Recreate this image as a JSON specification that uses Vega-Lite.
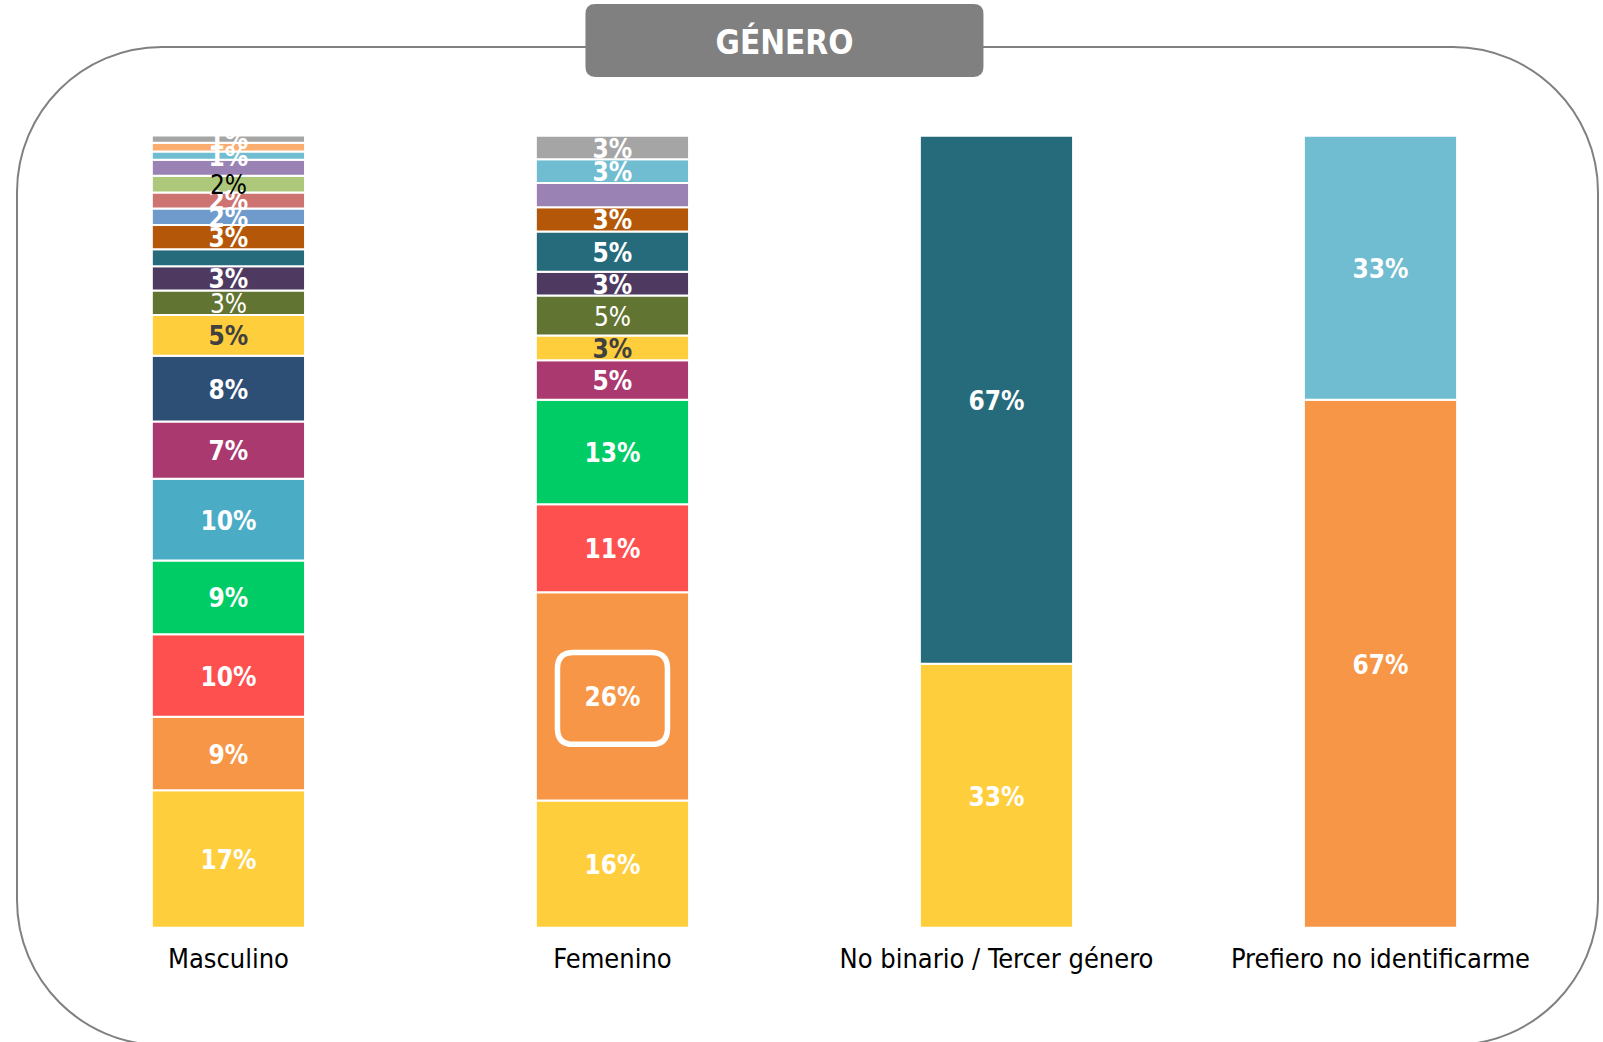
{
  "$schema": "https://vega.github.io/schema/vega-lite/v6.json",
  "usermeta": {"embedOptions": {"actions": false}},
  "autosize": {"type": "none"},
  "width": 1581,
  "height": 998,
  "padding": {"left": 17, "top": 47, "right": 5, "bottom": -3},
  "background": "white",
  "view": {"stroke": "#808080", "strokeWidth": 2, "cornerRadius": 145, "fill": null},
  "config": {"font": "DejaVu Sans Condensed"},
  "data": {
    "values": [
      {"g": "Masculino", "cat": "c01", "v": 17.34, "label": "17%"},
      {"g": "Masculino", "cat": "c02", "v": 9.29, "label": "9%"},
      {"g": "Masculino", "cat": "c03", "v": 10.42, "label": "10%"},
      {"g": "Masculino", "cat": "c04", "v": 9.30, "label": "9%"},
      {"g": "Masculino", "cat": "c05", "v": 10.34, "label": "10%"},
      {"g": "Masculino", "cat": "c06", "v": 7.23, "label": "7%"},
      {"g": "Masculino", "cat": "c07", "v": 8.29, "label": "8%"},
      {"g": "Masculino", "cat": "c08", "v": 5.15, "label": "5%"},
      {"g": "Masculino", "cat": "c09", "v": 3.08, "label": "3%"},
      {"g": "Masculino", "cat": "c10", "v": 3.09, "label": "3%"},
      {"g": "Masculino", "cat": "c11", "v": 2.13, "label": ""},
      {"g": "Masculino", "cat": "c12", "v": 3.06, "label": "3%"},
      {"g": "Masculino", "cat": "c13", "v": 2.09, "label": "2%"},
      {"g": "Masculino", "cat": "c14", "v": 2.03, "label": "2%"},
      {"g": "Masculino", "cat": "c15", "v": 2.10, "label": "2%"},
      {"g": "Masculino", "cat": "c16", "v": 2.03, "label": ""},
      {"g": "Masculino", "cat": "c17", "v": 1.04, "label": "1%"},
      {"g": "Masculino", "cat": "c18", "v": 1.09, "label": ""},
      {"g": "Masculino", "cat": "c19", "v": 0.91, "label": "1%"},
      {"g": "Femenino", "cat": "c01", "v": 16.06, "label": "16%"},
      {"g": "Femenino", "cat": "c02", "v": 26.30, "label": "26%"},
      {"g": "Femenino", "cat": "c03", "v": 11.10, "label": "11%"},
      {"g": "Femenino", "cat": "c04", "v": 13.19, "label": "13%"},
      {"g": "Femenino", "cat": "c06", "v": 5.01, "label": "5%"},
      {"g": "Femenino", "cat": "c08", "v": 3.10, "label": "3%"},
      {"g": "Femenino", "cat": "c09", "v": 5.06, "label": "5%"},
      {"g": "Femenino", "cat": "c10", "v": 3.01, "label": "3%"},
      {"g": "Femenino", "cat": "c11", "v": 5.09, "label": "5%"},
      {"g": "Femenino", "cat": "c12", "v": 3.04, "label": "3%"},
      {"g": "Femenino", "cat": "c16", "v": 3.06, "label": ""},
      {"g": "Femenino", "cat": "c17", "v": 3.01, "label": "3%"},
      {"g": "Femenino", "cat": "c19", "v": 2.95, "label": "3%"},
      {"g": "No binario / Tercer género", "cat": "c01", "v": 33.33, "label": "33%"},
      {"g": "No binario / Tercer género", "cat": "c11", "v": 66.67, "label": "67%"},
      {"g": "Prefiero no identificarme", "cat": "c02", "v": 66.67, "label": "67%"},
      {"g": "Prefiero no identificarme", "cat": "c17", "v": 33.33, "label": "33%"}
    ]
  },
  "encoding": {
    "x": {
      "field": "g",
      "type": "nominal",
      "sort": ["Masculino", "Femenino", "No binario / Tercer género", "Prefiero no identificarme"],
      "scale": {"paddingInner": 0.601, "paddingOuter": 0.359, "align": 0.489},
      "axis": null
    }
  },
  "layer": [
    {
      "mark": {"type": "bar", "stroke": "white", "strokeWidth": 2},
      "encoding": {
        "y": {"field": "v", "type": "quantitative", "stack": "zero", "scale": {"domain": [-14.81, 111.2], "nice": false, "zero": false}, "axis": null},
        "color": {
          "field": "cat",
          "type": "nominal",
          "scale": {
            "domain": ["c01","c02","c03","c04","c05","c06","c07","c08","c09","c10","c11","c12","c13","c14","c15","c16","c17","c18","c19"],
            "range": ["#FFCE3C","#F79646","#FF5050","#00CC66","#4BACC6","#A9396F","#2D4F76","#FFCE3C","#627431","#4E3A61","#266B7B","#B55708","#6F9ACC","#CD7371","#ADC87B","#9A82B5","#70BCD0","#FBAD70","#A5A5A5"]
          },
          "legend": null
        },
        "order": {"field": "cat", "sort": "ascending"}
      }
    },
    {
      "mark": {"type": "text", "fontSize": 26, "fontWeight": "bold", "color": "white", "baseline": "middle", "align": "center", "dy": 2},
      "encoding": {
        "y": {"field": "v", "type": "quantitative", "stack": "zero", "bandPosition": 0.5},
        "detail": {"field": "cat"},
        "order": {"field": "cat", "sort": "ascending"},
        "text": {"condition": {"test": "datum.cat != 'c08' && datum.cat != 'c09' && datum.cat != 'c15'", "field": "label", "type": "nominal"}, "value": ""}
      }
    },
    {
      "mark": {"type": "text", "fontSize": 26, "fontWeight": "bold", "color": "#404040", "baseline": "middle", "align": "center", "dy": 2},
      "encoding": {
        "y": {"field": "v", "type": "quantitative", "stack": "zero", "bandPosition": 0.5},
        "detail": {"field": "cat"},
        "order": {"field": "cat", "sort": "ascending"},
        "text": {"condition": {"test": "datum.cat == 'c08'", "field": "label", "type": "nominal"}, "value": ""}
      }
    },
    {
      "mark": {"type": "text", "fontSize": 26, "fontWeight": "normal", "color": "white", "baseline": "middle", "align": "center", "dy": 2},
      "encoding": {
        "y": {"field": "v", "type": "quantitative", "stack": "zero", "bandPosition": 0.5},
        "detail": {"field": "cat"},
        "order": {"field": "cat", "sort": "ascending"},
        "text": {"condition": {"test": "datum.cat == 'c09'", "field": "label", "type": "nominal"}, "value": ""}
      }
    },
    {
      "mark": {"type": "text", "fontSize": 26, "fontWeight": "normal", "color": "black", "baseline": "middle", "align": "center", "dy": 2},
      "encoding": {
        "y": {"field": "v", "type": "quantitative", "stack": "zero", "bandPosition": 0.5},
        "detail": {"field": "cat"},
        "order": {"field": "cat", "sort": "ascending"},
        "text": {"condition": {"test": "datum.cat == 'c15'", "field": "label", "type": "nominal"}, "value": ""}
      }
    },
    {
      "mark": {
        "type": "point",
        "shape": "M -0.71,-0.836 L 0.71,-0.836 Q 1,-0.836 1,-0.546 L 1,0.546 Q 1,0.836 0.71,0.836 L -0.71,0.836 Q -1,0.836 -1,0.546 L -1,-0.546 Q -1,-0.836 -0.71,-0.836 Z",
        "size": 12100,
        "filled": false,
        "stroke": "white",
        "strokeWidth": 5.5,
        "yOffset": 2
      },
      "encoding": {
        "y": {"field": "v", "type": "quantitative", "stack": "zero", "bandPosition": 0.5},
        "detail": {"field": "cat"},
        "order": {"field": "cat", "sort": "ascending"},
        "opacity": {"condition": {"test": "datum.g == 'Femenino' && datum.cat == 'c02'", "value": 1}, "value": 0}
      }
    },
    {
      "transform": [{"aggregate": [], "groupby": ["g"]}],
      "mark": {"type": "text", "fontSize": 27, "color": "black", "baseline": "middle", "align": "center"},
      "encoding": {
        "y": {"datum": -4.14, "type": "quantitative"},
        "text": {"field": "g", "type": "nominal"}
      }
    },
    {
      "transform": [{"filter": "datum.g == 'Masculino' && datum.cat == 'c01'"}],
      "mark": {
        "type": "point",
        "shape": "M -0.95,-0.1834 L 0.95,-0.1834 Q 1,-0.1834 1,-0.1334 L 1,0.1334 Q 1,0.1834 0.95,0.1834 L -0.95,0.1834 Q -1,0.1834 -1,0.1334 L -1,-0.1334 Q -1,-0.1834 -0.95,-0.1834 Z",
        "size": 158404,
        "filled": true,
        "fill": "#808080",
        "strokeWidth": 0,
        "opacity": 1,
        "xOffset": 172
      },
      "encoding": {
        "x": {"datum": "Femenino", "type": "nominal"},
        "y": {"datum": 112.02, "type": "quantitative"}
      }
    },
    {
      "transform": [{"filter": "datum.g == 'Masculino' && datum.cat == 'c01'"}],
      "mark": {"type": "text", "text": "GÉNERO", "fontSize": 33, "fontWeight": "bold", "color": "white", "baseline": "middle", "align": "center", "xOffset": 172},
      "encoding": {
        "x": {"datum": "Femenino", "type": "nominal"},
        "y": {"datum": 111.57, "type": "quantitative"}
      }
    }
  ]
}
